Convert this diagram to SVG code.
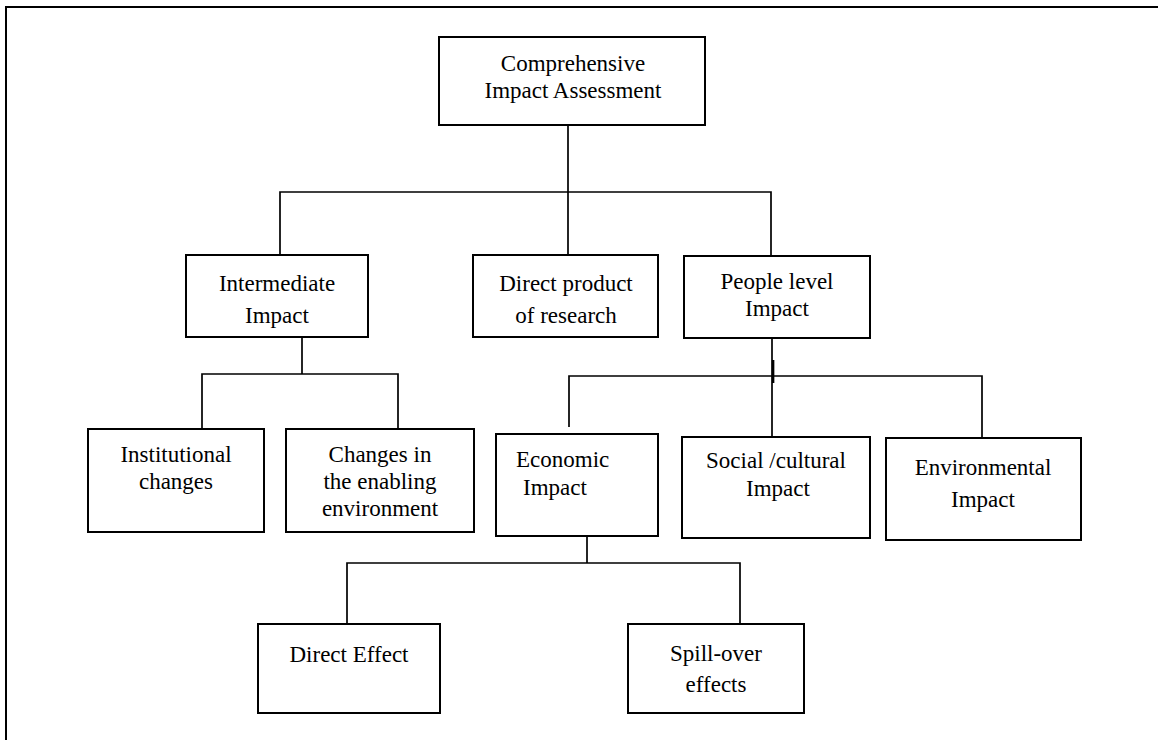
<svg xmlns="http://www.w3.org/2000/svg" width="1158" height="740" viewBox="0 0 1158 740">
  <style>
    .box { fill: #ffffff; stroke: #000000; stroke-width: 2; }
    .frame { fill: none; stroke: #000000; stroke-width: 2; }
    .link { fill: none; stroke: #000000; stroke-width: 1.7; }
    text { font-family: "Liberation Serif", "Times New Roman", serif; font-size: 23px; fill: #000000; }
    .c { text-anchor: middle; }
  </style>
  <rect width="1158" height="740" fill="#ffffff"/>

  <!-- page frame (top and left edges) -->
  <path class="frame" d="M6,740 V7 H1158"/>

  <!-- connectors -->
  <g id="connectors">
    <path class="link" d="M568,125 V192 M280,255 V192 H771 V256 M568,192 V255"/>
    <path class="link" d="M302,337 V374 M202,429 V374 H398 V429"/>
    <path class="link" d="M772,338 V437 M773.5,360 V383 M569,427 V376 H982 V437"/>
    <path class="link" d="M587,536 V563 M347,624 V563 H740 V624"/>
  </g>

  <g id="root">
    <rect class="box" x="439" y="37" width="266" height="88"/>
    <text class="c" x="573" y="71">Comprehensive</text>
    <text class="c" x="573" y="98">Impact Assessment</text>
  </g>

  <g id="intermediate">
    <rect class="box" x="186" y="255" width="182" height="82"/>
    <text class="c" x="277" y="291">Intermediate</text>
    <text class="c" x="277" y="323">Impact</text>
  </g>

  <g id="direct-product">
    <rect class="box" x="473" y="255" width="185" height="82"/>
    <text class="c" x="566" y="291">Direct product</text>
    <text class="c" x="566" y="323">of research</text>
  </g>

  <g id="people-level">
    <rect class="box" x="684" y="256" width="186" height="82"/>
    <text class="c" x="777" y="289">People level</text>
    <text class="c" x="777" y="316">Impact</text>
  </g>

  <g id="institutional">
    <rect class="box" x="88" y="429" width="176" height="103"/>
    <text class="c" x="176" y="462">Institutional</text>
    <text class="c" x="176" y="489">changes</text>
  </g>

  <g id="enabling-environment">
    <rect class="box" x="286" y="429" width="188" height="103"/>
    <text class="c" x="380" y="462">Changes in</text>
    <text class="c" x="380" y="489">the enabling</text>
    <text class="c" x="380" y="516">environment</text>
  </g>

  <g id="economic">
    <rect class="box" x="496" y="434" width="162" height="102"/>
    <text x="516" y="467">Economic</text>
    <text x="523" y="495">Impact</text>
  </g>

  <g id="social-cultural">
    <rect class="box" x="682" y="437" width="188" height="101"/>
    <text class="c" x="776" y="468">Social /cultural</text>
    <text class="c" x="778" y="496">Impact</text>
  </g>

  <g id="environmental">
    <rect class="box" x="886" y="438" width="195" height="102"/>
    <text class="c" x="983" y="475">Environmental</text>
    <text class="c" x="983" y="507">Impact</text>
  </g>

  <g id="direct-effect">
    <rect class="box" x="258" y="624" width="182" height="89"/>
    <text class="c" x="349" y="662">Direct Effect</text>
  </g>

  <g id="spill-over">
    <rect class="box" x="628" y="624" width="176" height="89"/>
    <text class="c" x="716" y="661">Spill-over</text>
    <text class="c" x="716" y="692">effects</text>
  </g>
</svg>
